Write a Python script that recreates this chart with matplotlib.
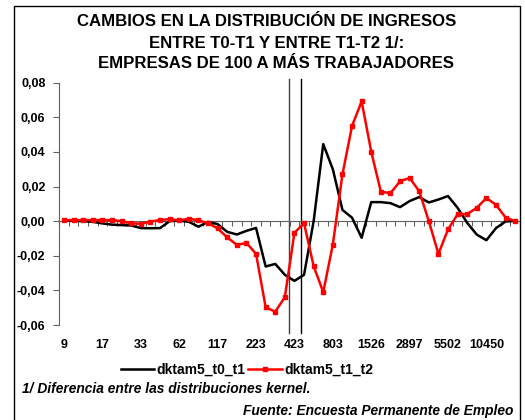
import numpy as np
import matplotlib
matplotlib.use('Agg')
import matplotlib.pyplot as plt
from matplotlib.lines import Line2D
from matplotlib.patches import Rectangle

plt.rcParams['font.family'] = ['Liberation Sans', 'DejaVu Sans']
plt.rcParams['font.weight'] = 'bold'

# income categories: only every 4th one is labelled
x_labels = ['9', '17', '33', '62', '117', '223', '423', '803', '1526', '2897', '5502', '10450']
label_step = 4

dktam5_t0_t1 = [0.0004, 0.0002, 0.0000, -0.0004, -0.0013, -0.0020, -0.0023, -0.0025,
                -0.0040, -0.0041, -0.0040, 0.0000, 0.0004, -0.0004, -0.0032, -0.0004,
                -0.0017, -0.0062, -0.0077, -0.0056, -0.0039, -0.0262, -0.0247, -0.0310,
                -0.0345, -0.0310, 0.0000, 0.0445, 0.0300, 0.0065, 0.0020, -0.0096,
                0.0110, 0.0110, 0.0104, 0.0081, 0.0116, 0.0139, 0.0108, 0.0125,
                0.0145, 0.0077, -0.0010, -0.0078, -0.0110, -0.0040, -0.0002, 0.0002]
dktam5_t1_t2 = [0.0006, 0.0006, 0.0006, 0.0006, 0.0006, 0.0006, 0.0000, -0.0012,
                -0.0016, -0.0002, 0.0006, 0.0012, 0.0004, 0.0014, 0.0005, -0.0012,
                -0.0042, -0.0094, -0.0137, -0.0126, -0.0189, -0.0498, -0.0523, -0.0439,
                -0.0067, -0.0012, -0.0260, -0.0410, -0.0135, 0.0270, 0.0550, 0.0692,
                0.0402, 0.0170, 0.0162, 0.0230, 0.0250, 0.0173, 0.0000, -0.0189,
                -0.0048, 0.0040, 0.0041, 0.0077, 0.0134, 0.0094, 0.0021, 0.0000]
y_ticks = [-0.06, -0.04, -0.02, 0.00, 0.02, 0.04, 0.06, 0.08]

W, H = 525, 420
fig = plt.figure(figsize=(W / 100, H / 100), dpi=100)
ax = fig.add_axes([59.3 / W, 1 - 325 / H, (520 - 59.3) / W, (325 - 82.7) / H])

n = len(dktam5_t0_t1)
x = np.arange(n)
ax.plot(x, dktam5_t0_t1, color='black', lw=1.8, label='dktam5_t0_t1', zorder=3)
ax.plot(x, dktam5_t1_t2, color='#ff0000', lw=1.8, marker='s', ms=3.4,
        label='dktam5_t1_t2', zorder=4)

ax.set_xlim(-0.5, n - 0.5)
ax.set_ylim(-0.06, 0.08)

# axes styling (Excel look)
for s in ['top', 'right']:
    ax.spines[s].set_visible(False)
ax.spines['left'].set_color('#606060')
ax.spines['bottom'].set_color('#606060')
ax.spines['bottom'].set_position(('data', 0))
ax.set_yticks(y_ticks)
ax.set_yticklabels([('%.2f' % v).replace('.', ',') for v in y_ticks], fontsize=9, fontweight='bold')
ax.tick_params(axis='y', direction='out', length=4, color='#606060', pad=6)
ax.set_xticks(np.arange(n + 1) - 0.5)
ax.set_xticklabels([])
ax.tick_params(axis='x', direction='out', length=3.5, color='#606060')

trans = ax.get_xaxis_transform()
for k, lab in enumerate(x_labels):
    ax.text(k * label_step, -0.082, lab, transform=trans, ha='center', va='center',
            fontsize=9, fontweight='bold')

# two vertical reference lines around the 423 category
for xv, c in [(23.4, '#404040'), (24.65, 'black')]:
    ax.add_line(Line2D([xv, xv], [1.015, -0.033], transform=trans, color=c, lw=1,
                       clip_on=False, zorder=2))

# titles
fig.text(266.5 / W, 1 - 21 / H, 'CAMBIOS EN LA DISTRIBUCIÓN DE INGRESOS', ha='center', va='center',
         fontsize=12.1, fontweight='bold')
fig.text(277 / W, 1 - 43 / H, 'ENTRE T0-T1 Y ENTRE T1-T2 1/:', ha='center', va='center',
         fontsize=12.1, fontweight='bold')
fig.text(276 / W, 1 - 64 / H, 'EMPRESAS DE 100 A MÁS TRABAJADORES', ha='center', va='center',
         fontsize=12.1, fontweight='bold')

fig.legend(loc='center', bbox_to_anchor=(247 / W, 1 - 369.5 / H), ncol=2, frameon=False,
           prop={'size': 10, 'weight': 'bold'}, handlelength=2.4, handletextpad=0.2,
           columnspacing=0.2)

fig.text(22 / W, 1 - 389 / H, '1/ Diferencia entre las distribuciones kernel.', ha='left',
         va='center', fontsize=9.9, fontweight='bold', style='italic')
fig.text(513 / W, 1 - 411 / H, 'Fuente: Encuesta Permanente de Empleo', ha='right',
         va='center', fontsize=9.9, fontweight='bold', style='italic')

fig.patches.append(Rectangle((14 / W, -0.02), (520 - 14) / W, 1.02 - 6 / H,
                             transform=fig.transFigure, fill=False, ec='black', lw=1))

fig.savefig('out.png', dpi=100)
